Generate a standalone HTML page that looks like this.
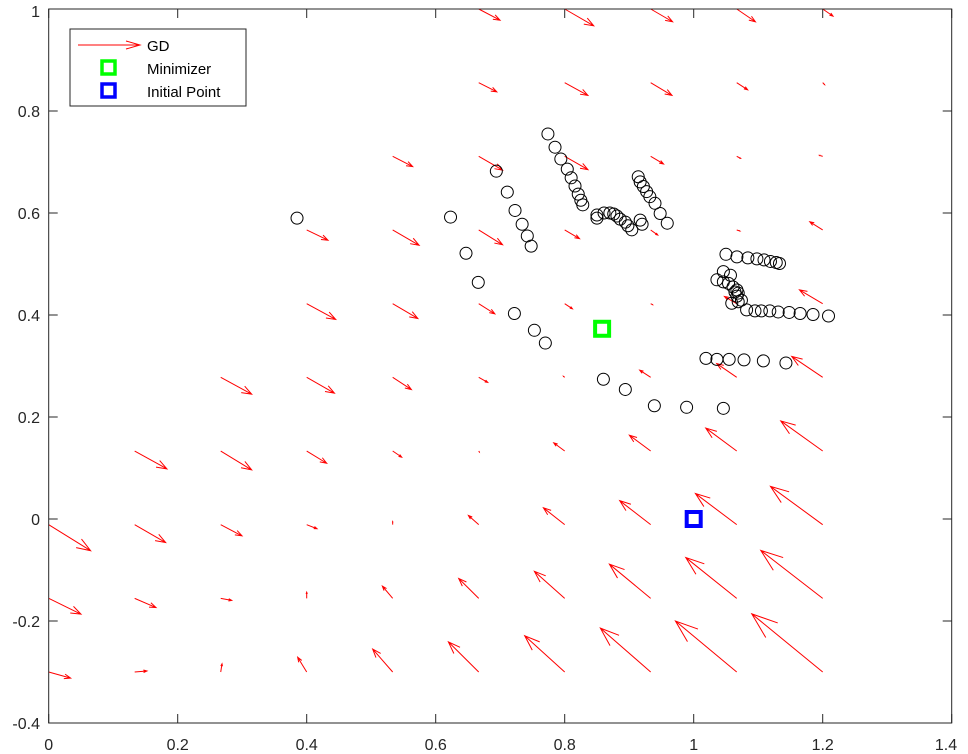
<!DOCTYPE html>
<html><head><meta charset="utf-8"><style>
html,body{margin:0;padding:0;background:#fff;}
svg{display:block;font-family:"Liberation Sans",Arial,sans-serif;}
</style></head><body>
<svg id="chart" width="968" height="754" viewBox="0 0 968 754">
<g id="arrows"></g>
<g id="circles"></g>
<g id="axes"></g>
<g id="marks"></g>
<g id="legend"></g>
</svg>
<script>
const xTicks = [0, 0.2, 0.4, 0.6, 0.8, 1, 1.2, 1.4];
const xTickLabels = ["0", "0.2", "0.4", "0.6", "0.8", "1", "1.2", "1.4"];
const yTicks = [-0.4, -0.2, 0, 0.2, 0.4, 0.6, 0.8, 1];
const yTickLabels = ["-0.4", "-0.2", "0", "0.2", "0.4", "0.6", "0.8", "1"];
const gridX = [0, 0.1333, 0.2667, 0.4, 0.5333, 0.6667, 0.8, 0.9333, 1.0667, 1.2];
const gridY = [-0.3, -0.1556, -0.0111, 0.1333, 0.2778, 0.4222, 0.5667, 0.7111, 0.8556, 1.0];
const U = [
 [.034,.019,.002,-.014,-.031,-.047,-.062,-.078,-.095,-.110],
 [.050,.033,.017,0,-.016,-.031,-.047,-.064,-.079,-.096],
 [.065,.048,.033,.016,0,-.016,-.033,-.048,-.064,-.081],
 [0,.050,.048,.031,.014,.001,-.017,-.033,-.048,-.065],
 [0,0,.048,.043,.029,.014,-.002,-.017,-.031,-.048],
 [0,0,0,.045,.039,.025,.012,.003,-.019,-.036],
 [0,0,0,.033,.041,.037,.023,.011,.005,-.020],
 [0,0,0,0,.031,.037,.036,.020,.006,-.005],
 [0,0,0,0,0,.028,.036,.033,.017,.003],
 [0,0,0,0,0,.033,.045,.034,.029,.016]
];
const V = [
 [-.012,.002,.016,.029,.045,.059,.071,.086,.100,.114],
 [-.031,-.018,-.004,.012,.024,.039,.053,.067,.080,.094],
 [-.051,-.035,-.022,-.008,.006,.018,.033,.047,.061,.075],
 [0,-.035,-.037,-.024,-.012,-.002,.016,.031,.045,.059],
 [0,0,-.033,-.031,-.024,-.010,.002,.014,.027,.041],
 [0,0,0,-.031,-.029,-.020,-.010,-.002,.014,.027],
 [0,0,0,-.020,-.030,-.029,-.017,-.010,-.002,.016],
 [0,0,0,0,-.020,-.027,-.026,-.015,-.004,.002],
 [0,0,0,0,0,-.018,-.025,-.025,-.014,-.004],
 [0,0,0,0,0,-.022,-.033,-.025,-.025,-.014]
];
const iterX = [.385,.623,.647,.666,.722,.753,.770,.860,.894,.939,.989,1.046,
 .694,.711,.723,.734,.742,.748,
 .774,.785,.794,.804,.810,.816,.821,.825,.828,
 .850,.850,.861,.870,.876,.881,.886,.894,.898,.904,.917,.920,
 .914,.917,.922,.927,.932,.940,.948,.959,
 1.050,1.067,1.084,1.098,1.109,1.119,1.128,1.133,
 1.046,1.057,1.036,1.046,1.054,1.061,1.067,1.069,1.059,1.069,1.074,1.067,1.064,
 1.082,1.095,1.105,1.118,1.131,1.148,1.165,1.185,1.209,
 1.019,1.036,1.055,1.078,1.108,1.143];
const iterY = [.590,.592,.521,.464,.403,.370,.345,.274,.254,.222,.219,.217,
 .682,.641,.605,.578,.555,.535,
 .755,.729,.706,.686,.669,.653,.637,.625,.616,
 .596,.590,.600,.600,.598,.594,.588,.582,.575,.567,.586,.578,
 .671,.661,.652,.642,.632,.619,.599,.580,
 .519,.514,.512,.510,.508,.505,.503,.501,
 .485,.478,.469,.465,.462,.455,.449,.443,.423,.426,.429,.437,.445,
 .410,.408,.408,.408,.406,.405,.403,.401,.398,
 .315,.313,.313,.312,.310,.306];
const minimizer = [0.858, 0.373];
const initialPoint = [1.0, 0.0];

const NS = "http://www.w3.org/2000/svg";
const L = 48.7, R = 951.7, T = 9, B = 723;
const sx = v => L + (v - 0) * (R - L) / 1.4;
const sy = v => B - (v + 0.4) * (B - T) / 1.4;
function mk(tag, attrs, parent) {
  const e = document.createElementNS(NS, tag);
  for (const k in attrs) e.setAttribute(k, attrs[k]);
  parent.appendChild(e);
  return e;
}
// arrows
const ga = document.getElementById('arrows');
for (let r = 0; r < gridY.length; r++) {
  for (let c = 0; c < gridX.length; c++) {
    const u = U[r][c], v = V[r][c];
    if (u === 0 && v === 0) continue;
    const x1 = sx(gridX[c]), y1 = sy(gridY[r]);
    const x2 = sx(gridX[c] + u), y2 = sy(gridY[r] + v);
    const dx = x2 - x1, dy = y2 - y1, len = Math.hypot(dx, dy);
    const a = Math.atan2(dy, dx), h = len * 0.3, w = 0.35;
    const hx1 = x2 - h * Math.cos(a - w), hy1 = y2 - h * Math.sin(a - w);
    const hx2 = x2 - h * Math.cos(a + w), hy2 = y2 - h * Math.sin(a + w);
    const p = mk('path', {d: `M${x1},${y1}L${x2},${y2}M${hx1},${hy1}L${x2},${y2}L${hx2},${hy2}`, stroke: '#ff0000', 'stroke-width': 1, fill: 'none'}, ga);
    
    
  }
}
// circles
const gc = document.getElementById('circles');
for (let i = 0; i < iterX.length; i++) {
  const c = mk('circle', {cx: sx(iterX[i]), cy: sy(iterY[i]), r: 6, fill: 'none', stroke: '#000', 'stroke-width': 1}, gc);
  
  
}
// axes
const gx = document.getElementById('axes');
mk('rect', {x: L, y: T, width: R - L, height: B - T, fill: 'none', stroke: '#262626', 'stroke-width': 1}, gx);
xTicks.forEach((t, i) => {
  const x = sx(t);
  mk('line', {x1: x, y1: B, x2: x, y2: B - 9, stroke: '#262626'}, gx);
  mk('line', {x1: x, y1: T, x2: x, y2: T + 9, stroke: '#262626'}, gx);
  const tx = mk('text', {x: Math.min(x, 946), y: 750, 'text-anchor': 'middle', 'font-size': 16, fill: '#262626'}, gx);
  tx.textContent = xTickLabels[i];
  
  
});
yTicks.forEach((t, i) => {
  const y = sy(t);
  mk('line', {x1: L, y1: y, x2: L + 9, y2: y, stroke: '#262626'}, gx);
  mk('line', {x1: R, y1: y, x2: R - 9, y2: y, stroke: '#262626'}, gx);
  const tx = mk('text', {x: 40, y: Math.max(y + 6, 17), 'text-anchor': 'end', 'font-size': 16, fill: '#262626'}, gx);
  tx.textContent = yTickLabels[i];
  
  
});
// special points
const gm = document.getElementById('marks');
const m1 = mk('rect', {x: sx(minimizer[0]) - 7, y: sy(minimizer[1]) - 7, width: 14, height: 14, fill: 'none', stroke: '#00ff00', 'stroke-width': 4}, gm);


const m2 = mk('rect', {x: sx(initialPoint[0]) - 7, y: sy(initialPoint[1]) - 7, width: 14, height: 14, fill: 'none', stroke: '#0000ff', 'stroke-width': 4}, gm);


</script>
<script>
(function(){
const NS = "http://www.w3.org/2000/svg";
const g = document.getElementById('legend');
g.innerHTML = '<rect x="70" y="29" width="176" height="77" fill="#fff" stroke="#262626" stroke-width="1"/>' +
'<g><path d="M78,45L140,45M126,41L140,45L126,49" stroke="#ff0000" fill="none" stroke-width="1"/><text x="147" y="51" font-size="15" fill="#000">GD</text></g>' +
'<g><rect x="102" y="61" width="13" height="13" fill="none" stroke="#00ff00" stroke-width="3.5"/><text x="147" y="74" font-size="15" fill="#000">Minimizer</text></g>' +
'<g><rect x="102" y="84" width="13" height="13" fill="none" stroke="#0000ff" stroke-width="3.5"/><text x="147" y="97" font-size="15" fill="#000">Initial Point</text></g>';
})();
</script>
</body></html>
